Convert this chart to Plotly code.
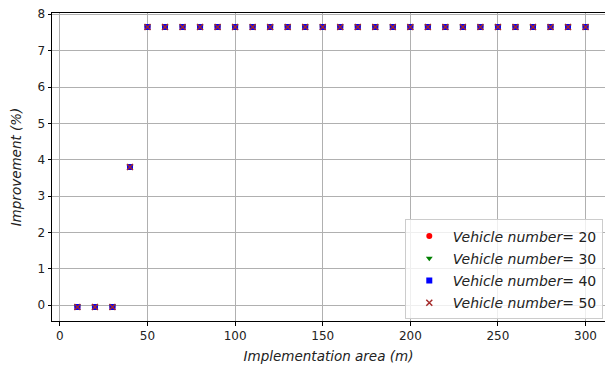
import plotly.graph_objects as go

area = list(range(10, 310, 10))
improve_20 = [-0.05, -0.05, -0.05, 3.8] + [7.65] * 26
improve_30 = [-0.05, -0.05, -0.05, 3.8] + [7.65] * 26
improve_40 = [-0.05, -0.05, -0.05, 3.8] + [7.65] * 26
improve_50 = [-0.05, -0.05, -0.05, 3.8] + [7.65] * 26
series = [
    ("20", improve_20, "circle", "red"),
    ("30", improve_30, "triangle-down", "green"),
    ("40", improve_40, "square", "blue"),
    ("50", improve_50, "x-thin", "brown"),
]

fig = go.Figure()
for name, vals, sym, col in series:
    mk = dict(symbol=sym, color=col, size=6)
    if sym == "x-thin":
        mk = dict(symbol=sym, color=col, size=6, line=dict(color=col, width=1.5))
    fig.add_trace(go.Scatter(x=area, y=vals, mode="markers", marker=mk,
                             legendgroup="g" + name,
                             name="<i>Vehicle number</i>= " + name))

font = dict(family="DejaVu Sans", size=11, color="#222")
fig.update_layout(
    width=605, height=368,
    margin=dict(l=52, r=0, t=13, b=47),
    paper_bgcolor="white", plot_bgcolor="white",
    font=font,
    showlegend=True,
    legend=dict(x=0.996, y=0.005, xanchor="right", yanchor="bottom",
                bgcolor="rgba(255,255,255,0.8)", bordercolor="#cccccc", borderwidth=1,
                font=dict(family="DejaVu Sans", size=14, color="#222"),
                itemsizing="trace", tracegroupgap=1, itemwidth=37),
    xaxis=dict(range=[-4.5, 311.1], tickvals=[0, 50, 100, 150, 200, 250, 300],
               showgrid=True, gridcolor="#b0b0b0", gridwidth=1,
               showline=True, linecolor="black", linewidth=1, mirror=True,
               ticks="outside", ticklen=3.5, tickcolor="black", zeroline=False,
               tickfont=dict(size=12),
               title=dict(text="<i>Implementation area (m)</i>", font=dict(size=13.5), standoff=9)),
    yaxis=dict(range=[-0.435, 8.035], tickvals=list(range(0, 9)),
               showgrid=True, gridcolor="#b0b0b0", gridwidth=1,
               showline=True, linecolor="black", linewidth=1,
               ticks="outside", ticklen=3.5, tickcolor="black", zeroline=False,
               tickfont=dict(size=12),
               title=dict(text="<i>Improvement (%)</i>", font=dict(size=13.5), standoff=12)),
)
fig.write_html("out.html")
